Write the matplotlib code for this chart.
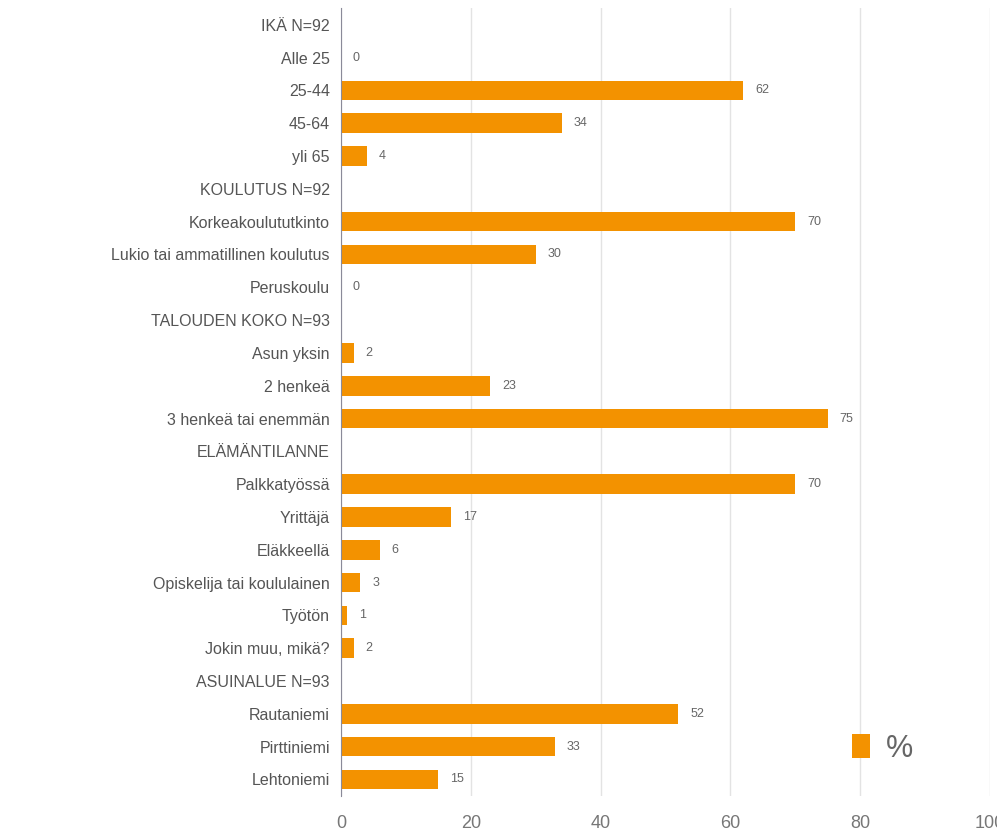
import matplotlib.pyplot as plt
import numpy as np

plt.rcParams['font.family'] = ['Liberation Sans', 'DejaVu Sans']

labels = ['IKÄ N=92', 'Alle 25', '25-44', '45-64', 'yli 65',
          'KOULUTUS N=92', 'Korkeakoulututkinto', 'Lukio tai ammatillinen koulutus', 'Peruskoulu',
          'TALOUDEN KOKO N=93', 'Asun yksin', '2 henkeä', '3 henkeä tai enemmän',
          'ELÄMÄNTILANNE', 'Palkkatyössä', 'Yrittäjä', 'Eläkkeellä', 'Opiskelija tai koululainen',
          'Työtön', 'Jokin muu, mikä?',
          'ASUINALUE N=93', 'Rautaniemi', 'Pirttiniemi', 'Lehtoniemi']
# None = header row, no bar
values = [None, 0, 62, 34, 4,
          None, 70, 30, 0,
          None, 2, 23, 75,
          None, 70, 17, 6, 3, 1, 2,
          None, 52, 33, 15]

orange = '#F39200'
grey = '#555555'

fig = plt.figure(figsize=(9.97, 8.36), dpi=100)
ax = fig.add_axes([0.342, 0.048, 0.651, 0.942])

y = np.arange(len(labels))
vals = np.array([v if v is not None else 0 for v in values], dtype=float)
ax.barh(y, vals, height=0.6, color=orange, label='%', zorder=3)

for yi, v in zip(y, values):
    if v is None:
        continue
    ax.text(v + 1.8, yi, str(v), va='center', ha='left', fontsize=9, color='#666666')

ax.set_xlim(0, 100)
ax.set_ylim(len(labels) - 0.5, -0.5)
ax.set_yticks(y)
ax.set_yticklabels(labels, fontsize=11.5, color=grey)
ax.set_xticks(np.arange(0, 101, 20))
ax.tick_params(axis='x', labelsize=13, colors='#777777', length=0, pad=14)
ax.tick_params(axis='y', length=0, pad=8)
ax.xaxis.grid(True, color='#e3e3e3', linewidth=1, zorder=0)
for s in ['top', 'right', 'bottom']:
    ax.spines[s].set_visible(False)
ax.spines['left'].set_color('#8a8a99')
ax.spines['left'].set_zorder(4)

leg = ax.legend(loc='center left', bbox_to_anchor=(0.745, 0.06), frameon=False,
                fontsize=22, handlelength=0.6, handleheight=0.8, handletextpad=0.5)
for t in leg.get_texts():
    t.set_color('#666666')

fig.savefig('out.png', dpi=100)
